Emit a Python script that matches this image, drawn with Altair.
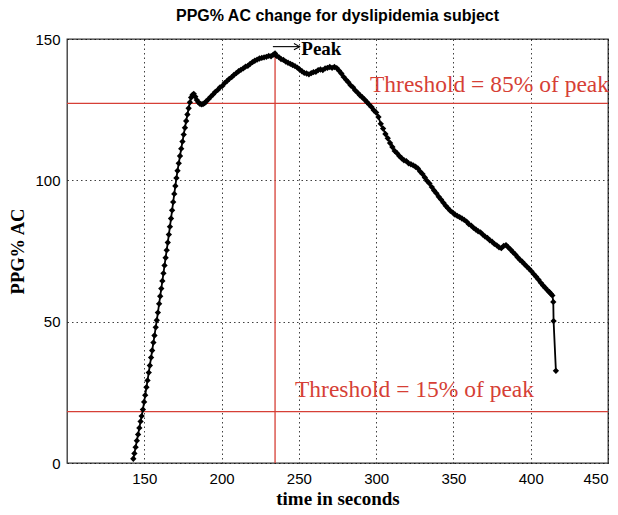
import altair as alt
import pandas as pd

# ---- data ----
rise_t = [142.9, 143.6, 144.4, 145.2, 146.0, 146.8, 147.6, 148.3, 149.1, 149.9,
          150.6, 151.4, 152.1, 152.9, 153.6, 154.4, 155.1, 155.9, 156.6, 157.4,
          158.1, 158.8, 159.6, 160.3, 161.0, 161.7, 162.4, 163.1, 163.8, 164.5,
          165.2, 165.9, 166.6, 167.3, 168.0, 168.7, 169.4, 170.1, 170.8, 171.5,
          172.3, 173.1, 173.9, 174.7, 175.5, 176.3, 177.1, 177.9, 178.7, 179.5, 180.3]
rise_v = [1.5, 3.4, 5.6, 7.9, 10.1, 12.4, 14.7, 16.6, 18.9, 21.6,
          24.0, 26.8, 29.2, 32.0, 34.5, 37.3, 39.8, 42.6, 45.1, 48.0,
          50.5, 53.2, 56.3, 59.0, 61.7, 64.4, 67.1, 69.9, 72.6, 75.3,
          78.0, 80.8, 83.6, 86.5, 89.4, 92.3, 95.2, 98.0, 100.8, 103.4,
          106.0, 108.6, 111.2, 113.7, 116.2, 118.6, 121.0, 123.3, 125.5, 127.6, 129.3]

top_t = [181.2, 182.0, 183.0, 184.0, 185.0, 186.0, 187.0, 188.0, 189.0, 190.0,
         191.5, 193.0, 194.5, 196.0, 197.5, 199.0, 200.5, 202.0, 203.5, 205.0,
         206.5, 208.0, 209.5, 211.0, 212.5, 214.0, 215.5, 217.0, 218.5, 220.0,
         221.5, 223.0, 224.5, 226.0, 227.5, 229.0, 230.5, 232.0, 233.5, 234.6,
         235.5, 237.0, 238.5, 240.0, 241.5, 243.0, 244.5, 246.0, 247.5, 249.0,
         250.5, 252.0, 253.5, 255.0, 256.5, 258.0, 259.5, 261.0, 262.5, 264.0,
         265.5, 267.0, 268.5, 270.0, 271.5, 273.0, 274.5]
top_v = [130.2, 130.6, 129.6, 128.4, 127.6, 127.1, 126.9, 127.0, 127.3, 127.9,
         128.7, 129.6, 130.4, 131.3, 132.0, 132.9, 133.4, 134.4, 135.1, 135.9,
         136.5, 137.3, 137.9, 138.6, 139.1, 139.6, 140.2, 140.5, 141.2, 141.8,
         142.3, 142.7, 143.1, 143.3, 143.5, 143.7, 144.0, 143.9, 144.5, 144.9,
         144.0, 143.6, 142.9, 142.6, 142.0, 141.6, 141.2, 140.8, 140.4, 139.9,
         139.2, 138.6, 138.0, 137.8, 137.5, 137.9, 138.3, 138.4, 139.0, 139.2,
         139.0, 139.6, 139.8, 140.1, 139.8, 140.1, 139.7]

fall_t = [276.0, 277.5, 279.0, 280.5, 282.0, 283.5, 285.0, 286.5, 288.0, 289.5,
          291.0, 292.5, 294.0, 295.5, 297.0, 298.5, 300.0, 301.5, 303.0, 304.5,
          306.0, 307.5, 309.0, 310.5, 312.0, 313.5, 315.0, 316.5, 318.0, 319.5,
          321.0, 322.5, 324.0, 325.5, 327.0, 328.5, 330.0, 331.5, 333.0, 334.5,
          336.0, 337.5, 339.0, 340.5, 342.0, 343.5, 345.0, 346.5, 348.0, 349.5,
          351.0, 352.5, 354.0, 355.5, 357.0, 358.5, 360.0, 361.5, 363.0, 364.5,
          366.0, 367.5, 369.0, 370.5, 372.0, 373.5, 375.0, 376.5, 378.0, 379.5,
          381.0, 382.5, 384.0, 385.5, 387.0, 388.5, 390.0, 391.5, 393.0, 394.5,
          396.0, 397.5, 399.0, 400.5, 402.0, 403.5, 405.0, 406.5, 408.0, 409.5,
          411.0, 412.0, 413.0, 414.0, 414.6, 414.8, 416.3]
fall_v = [138.8, 137.8, 136.6, 135.6, 134.7, 133.6, 132.9, 131.8, 131.0, 130.1,
          129.4, 128.6, 127.7, 126.8, 125.9, 124.8, 124.0, 122.4, 120.0, 118.3,
          116.4, 114.9, 113.2, 111.8, 110.4, 109.6, 108.6, 107.8, 107.1, 106.8,
          106.0, 105.7, 105.3, 104.8, 104.2, 103.1, 102.2, 101.0, 99.8, 98.9,
          97.6, 96.4, 95.4, 94.2, 93.2, 92.1, 91.0, 90.1, 89.2, 88.6,
          87.9, 87.4, 87.0, 86.5, 86.0, 85.4, 84.5, 84.0, 83.2, 82.6,
          82.0, 81.6, 80.8, 80.1, 79.6, 78.8, 78.3, 77.5, 77.0, 76.3,
          76.0, 76.8, 77.1, 76.3, 75.5, 74.6, 73.8, 72.8, 71.9, 71.2,
          70.3, 69.5, 68.7, 67.8, 66.8, 65.9, 64.9, 63.8, 62.8, 61.9,
          61.0, 60.5, 59.9, 59.3, 57.0, 50.2, 32.6]

peak_time = 234.6
peak_value = 144.9
threshold_values = [127.2, 18.2]
threshold_labels = ["Threshold = 85% of peak", "Threshold = 15% of peak"]
threshold_label_t = [296.0, 247.5]
threshold_label_v = [131.1, 23.5]
x_ticks = [150, 200, 250, 300, 350, 400, 450]
y_ticks = [0, 50, 100, 150]
x_domain = [100, 450]
y_domain = [0, 150]

RED = "#d63f36"

df = pd.DataFrame({"t": rise_t + top_t + fall_t, "v": rise_v + top_v + fall_v})


def X(field="t"):
    return alt.X(f"{field}:Q", scale=alt.Scale(domain=x_domain, nice=False, zero=False),
                 axis=alt.Axis(values=x_ticks, title="time in seconds", labelPadding=8,
                               titlePadding=3, titleFontSize=19))


def Y(field="v"):
    return alt.Y(f"{field}:Q", scale=alt.Scale(domain=y_domain, nice=False),
                 axis=alt.Axis(values=y_ticks, title="PPG% AC", labelPadding=7,
                               titlePadding=7, titleFontSize=18.5))


base = alt.Chart(df)
line = base.mark_line(color="black", strokeWidth=1.8).encode(x=X(), y=Y())
pts = base.mark_point(shape="diamond", filled=True, size=40, color="black", opacity=1).encode(x=X(), y=Y())

hdf = pd.DataFrame({"t": [x_domain[0]] * 2, "t2": [x_domain[1]] * 2, "v": threshold_values})
hrules = alt.Chart(hdf).mark_rule(color=RED, strokeWidth=1.3).encode(x=X(), x2="t2:Q", y=Y())

vdf = pd.DataFrame({"t": [peak_time], "v": [0.0], "v2": [peak_value]})
vrule = alt.Chart(vdf).mark_rule(color=RED, strokeWidth=1.3).encode(x=X(), y=Y(), y2="v2:Q")

ldf = pd.DataFrame({"t": threshold_label_t, "v": threshold_label_v, "label": threshold_labels})
labels = alt.Chart(ldf).mark_text(color=RED, font="Liberation Serif", fontSize=23.5,
                                  align="left", baseline="alphabetic").encode(
    x=X(), y=Y(), text="label:N")

adf = pd.DataFrame({"t": [233.2], "t2": [250.5], "v": [147.3]})
arrow = alt.Chart(adf).mark_rule(color="black", strokeWidth=1.1).encode(x=X(), x2="t2:Q", y=Y())
head = alt.Chart(pd.DataFrame({"t": [250.5], "v": [147.3]})).mark_point(
    shape="M-1,-0.55L0,0L-1,0.55", filled=False, size=130, color="black", strokeWidth=1.1,
    opacity=1).encode(x=X(), y=Y())
peak_txt = alt.Chart(pd.DataFrame({"t": [251.6], "v": [144.3], "label": ["Peak"]})).mark_text(
    font="Liberation Serif", fontSize=19, fontWeight="bold", align="left",
    baseline="alphabetic", color="black").encode(x=X(), y=Y(), text="label:N")

chart = alt.layer(hrules, vrule, line, pts, labels, arrow, head, peak_txt).properties(
    width=541, height=424,
    padding={"left": 59, "top": 31, "right": 2, "bottom": 44},
    autosize=alt.AutoSizeParams(type="none"),
    title=alt.Title("PPG% AC change for dyslipidemia subject", font="Liberation Sans",
                    fontSize=16, fontWeight="bold", color="black", offset=8,
                    frame="group", anchor="middle"),
).configure_axis(
    grid=True, gridColor="#000000", gridDash=[1.5, 3], gridWidth=1, gridOpacity=0.75,
    domain=False, ticks=False,
    labelFont="Liberation Sans", labelFontSize=15, labelColor="black",
    titleFont="Liberation Serif", titleFontWeight="bold", titleColor="black",
).configure_view(stroke="#333333", strokeWidth=1.3)

chart.save("out.html", embed_options={"renderer": "svg", "actions": False})
